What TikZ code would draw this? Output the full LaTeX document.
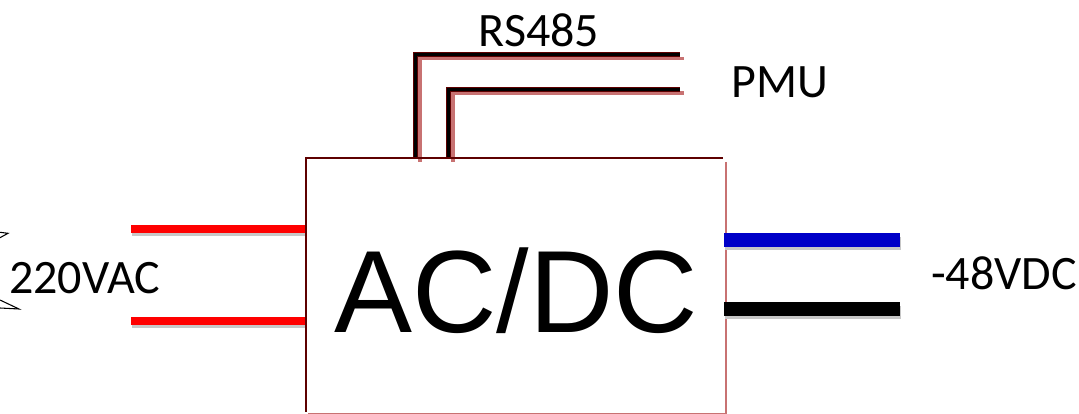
\documentclass[tikz,border=0pt]{standalone}
\usepackage{fontspec}
\setmainfont{Carlito}
\newfontfamily\boxfont{Liberation Sans}
\usetikzlibrary{arrows.meta,positioning}
\definecolor{edgedark}{HTML}{5E0000}
\definecolor{edgepink}{HTML}{C87272}
\definecolor{acred}{HTML}{FF0000}
\definecolor{dcblue}{HTML}{0000C8}

\begin{document}
\begin{tikzpicture}[
            x=0.75pt, y=-0.75pt,
            every node/.style={
                inner sep=0pt, outer sep=0pt,
                font=\fontsize{36}{42}\selectfont
            },
            boxtext/.style={
                font=\boxfont\fontsize{87.7}{100}\selectfont,
                text height=70.5pt, text depth=0pt,
                minimum width=315pt, minimum height=190.9pt
            },
            edgetop/.style={draw=edgedark, line width=1.5pt},
            edgelow/.style={draw=edgepink, line width=1.8pt},
            signalwire/.style={draw=edgedark, double=black, double distance=2.4pt, line width=0.6pt},
            signalecho/.style={draw=edgepink, line width=2.6pt},
            powerwire/.style={
                line width=#1,
                preaction={draw=black!22, line width=#1, transform canvas={shift={(0.8pt,-2.4pt)}}}
            }
        ]
        \useasboundingbox (0,0) rectangle (1079,414);

        \node[boxtext] (conv) at (516,285.25) {AC/DC};

        \node[anchor=base] (rslabel) at (539,46) {RS485};
        \node[anchor=base] (pmulabel) at (780,97) {PMU};
        \node[anchor=base west] (aclabel) at (9,293) {220VAC};
        \node[anchor=base west] (dclabel) at (931,289) {-48VDC};

        \draw[edgelow] ([yshift=-3pt]conv.north east) -- ([yshift=-1pt]conv.south east) -- ([xshift=1.5pt,yshift=-1pt]conv.south west);

        \coordinate (rsturn) at (415.5,54.5);
        \coordinate (rsend) at (680,54.5);
        \coordinate (pmuturn) at (448.5,89.5);
        \coordinate (pmuend) at (680,89.5);
        \coordinate (rsechoturn) at (420,58.5);
        \coordinate (rsechoend) at (684,58.5);
        \coordinate (pmuechoturn) at (453,93);
        \coordinate (pmuechoend) at (684,93);

        \draw[signalecho] ([yshift=-3pt]rsechoturn |- conv.north) -- (rsechoturn) -- (rsechoend);
        \draw[signalecho] ([yshift=-3pt]pmuechoturn |- conv.north) -- (pmuechoturn) -- (pmuechoend);
        \draw[signalwire] (rsturn |- conv.north) -- (rsturn) -- (rsend);
        \draw[signalwire] (pmuturn |- conv.north) -- (pmuturn) -- (pmuend);

        \coordinate (acatop) at (131,228.5);
        \coordinate (acbtop) at (131,320.5);
        \coordinate (dcaend) at (900,240);
        \coordinate (dcbend) at (900,309);

        \draw[powerwire=6pt, acred] (acatop) -- (acatop -| conv.west);
        \draw[powerwire=6pt, acred] (acbtop) -- (acbtop -| conv.west);
        \draw[powerwire=10pt, dcblue] ([xshift=-1.5pt]dcaend -| conv.east) -- (dcaend);
        \draw[powerwire=10pt, black] ([xshift=-1.5pt]dcbend -| conv.east) -- (dcbend);

        \draw[edgetop, line cap=rect] ([yshift=1.5pt]conv.south west) -- (conv.north west) -- ([xshift=-3pt]conv.north east);

        \draw[line width=0.8pt] (0,232.3) -- (8,233.3) -- (0,237.7);
        \draw[line width=0.8pt] (0,300) -- (19,309) -- (0,308);
        \end{tikzpicture}
\end{document}
